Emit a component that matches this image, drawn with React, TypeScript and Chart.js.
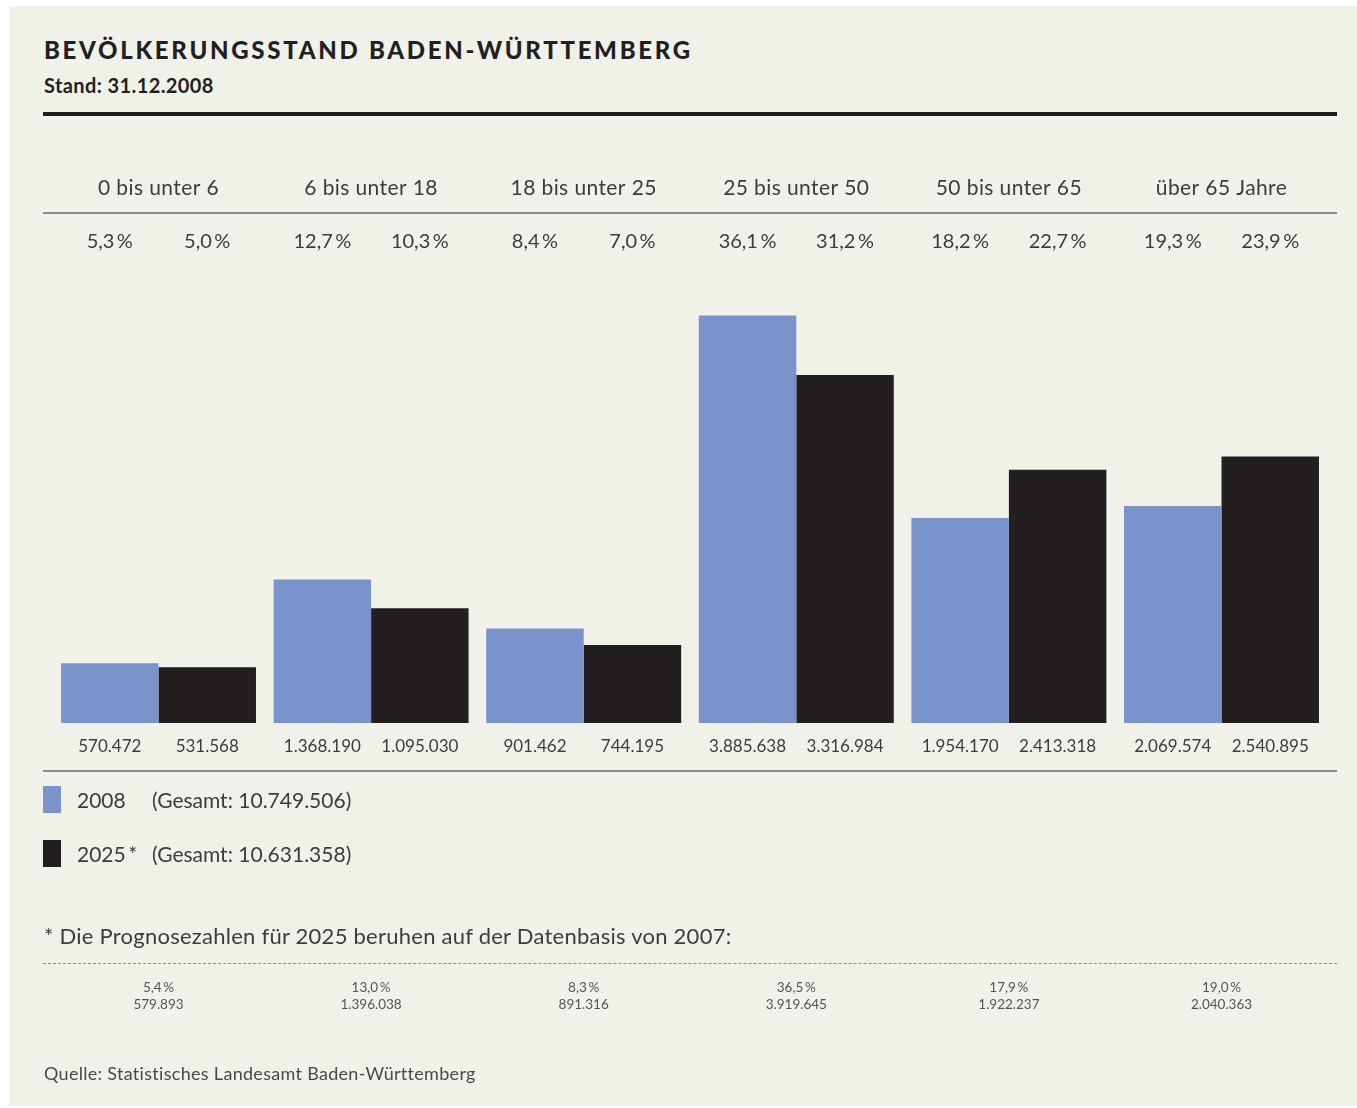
import React, { useEffect, useRef } from "react";
import { Chart, registerables } from "chart.js";

Chart.register(...registerables);

const categories = ["0 bis unter 6", "6 bis unter 18", "18 bis unter 25", "25 bis unter 50", "50 bis unter 65", "über 65 Jahre"];
const values2008 = [570472, 1368190, 901462, 3885638, 1954170, 2069574];
const values2025 = [531568, 1095030, 744195, 3316984, 2413318, 2540895];
const pct2008 = ["5,3", "12,7", "8,4", "36,1", "18,2", "19,3"];
const pct2025 = ["5,0", "10,3", "7,0", "31,2", "22,7", "23,9"];
const base2007Pct = ["5,4", "13,0", "8,3", "36,5", "17,9", "19,0"];
const base2007Values = [579893, 1396038, 891316, 3919645, 1922237, 2040363];
const total2008 = 10749506;
const total2025 = 10631358;

const BLUE = "#7a93cb";
const DARK = "#231f20";
const BG = "#f0f2ea";
const FONT = "Lato, 'Open Sans', sans-serif";

const fmt = (n: number) => String(n).replace(/\B(?=(\d{3})+(?!\d))/g, ".");
const pct = (s: string) => s + "\u2009%";

const labelsPlugin = {
  id: "labelsPlugin",
  afterDraw(chart: any) {
    const ctx = chart.ctx;
    const xs = chart.scales.x;
    const m0 = chart.getDatasetMeta(0);
    const m1 = chart.getDatasetMeta(1);
    ctx.save();
    ctx.textAlign = "center";
    ctx.textBaseline = "middle";
    categories.forEach((c, i) => {
      const cx = xs.getPixelForValue(i);
      const b0 = m0.data[i].x;
      const b1 = m1.data[i].x;
      ctx.fillStyle = "#3d3b3c";
      ctx.font = `21px ${FONT}`;
      (ctx as any).letterSpacing = "0.4px";
      ctx.fillText(c, cx, 188);
      (ctx as any).letterSpacing = "0px";
      ctx.font = `20px ${FONT}`;
      ctx.fillText(pct(pct2008[i]), b0, 242);
      ctx.fillText(pct(pct2025[i]), b1, 242);
      ctx.font = `17px ${FONT}`;
      ctx.fillText(fmt(values2008[i]), b0, 747);
      ctx.fillText(fmt(values2025[i]), b1, 747);
      ctx.fillStyle = "#555354";
      ctx.font = `13.5px ${FONT}`;
      ctx.fillText(pct(base2007Pct[i]), cx, 988);
      ctx.fillText(fmt(base2007Values[i]), cx, 1005);
    });
    ctx.restore();
  },
};

export default function App() {
  const ref = useRef<HTMLCanvasElement>(null);
  useEffect(() => {
    const chart = new Chart(ref.current!, {
      type: "bar",
      data: {
        labels: categories,
        datasets: [
          { label: "2008", data: values2008, backgroundColor: BLUE, barPercentage: 1, categoryPercentage: 0.917 },
          { label: "2025*", data: values2025, backgroundColor: DARK, barPercentage: 1, categoryPercentage: 0.917 },
        ],
      },
      options: {
        animation: false,
        responsive: false,
        maintainAspectRatio: false,
        events: [],
        layout: { padding: { left: 52.2, right: 29.2, top: 284, bottom: 385 } },
        plugins: { legend: { display: false }, tooltip: { enabled: false } },
        scales: {
          x: { display: false, grid: { display: false } },
          y: { display: false, min: 0, max: 4185000, grid: { display: false } },
        },
      },
      plugins: [labelsPlugin],
    });
    return () => chart.destroy();
  }, []);

  const text: React.CSSProperties = { position: "absolute", fontFamily: FONT, color: "#3d3b3c", whiteSpace: "nowrap", margin: 0 };
  const hline = (top: number, h: number, color: string, style?: React.CSSProperties): React.CSSProperties => ({
    position: "absolute", left: 43, width: 1294, top, height: h, background: color, ...style,
  });

  return (
    <div style={{ position: "absolute", left: 0, top: 0, width: 1357, height: 1108, background: "#fff", overflow: "hidden" }}>
      <div style={{ position: "absolute", left: 9, top: 6, width: 1348, height: 1100, background: BG }} />
      <div style={{ ...text, left: 44, top: 35, fontSize: 24, fontWeight: 900, letterSpacing: 2.7, color: "#231f20", lineHeight: "30px" }}>
        BEVÖLKERUNGSSTAND BADEN-WÜRTTEMBERG
      </div>
      <div style={{ ...text, left: 44, top: 72, fontSize: 20, fontWeight: 700, letterSpacing: 0.4, color: "#231f20", lineHeight: "26px" }}>
        Stand: 31.12.2008
      </div>
      <div style={hline(112, 4, "#1e1c1d")} />
      <div style={hline(212, 2, "#8a8a88")} />
      <div style={hline(770, 2, "#8a8a88")} />
      <div style={{ position: "absolute", left: 43, width: 1294, top: 963, height: 0, borderTop: "1.5px dashed #8a8a88" }} />
      <canvas ref={ref} width={1357} height={1108} style={{ position: "absolute", left: 0, top: 0, width: 1357, height: 1108 }} />
      <div style={{ position: "absolute", left: 43, top: 786, width: 18, height: 27, background: BLUE }} />
      <div style={{ ...text, left: 77, top: 786, fontSize: 21, lineHeight: "27px" }}>2008</div>
      <div style={{ ...text, left: 152, top: 786, fontSize: 21, lineHeight: "27px" }}>(Gesamt: {fmt(total2008)})</div>
      <div style={{ position: "absolute", left: 43, top: 840, width: 18, height: 27, background: DARK }} />
      <div style={{ ...text, left: 77, top: 840, fontSize: 21, lineHeight: "27px" }}>2025{"\u2009"}*</div>
      <div style={{ ...text, left: 152, top: 840, fontSize: 21, lineHeight: "27px" }}>(Gesamt: {fmt(total2025)})</div>
      <div style={{ ...text, left: 44, top: 922, fontSize: 22, letterSpacing: 0.25, lineHeight: "28px" }}>
        * Die Prognosezahlen für 2025 beruhen auf der Datenbasis von 2007:
      </div>
      <div style={{ ...text, left: 44, top: 1062, fontSize: 18, letterSpacing: 0.3, lineHeight: "22px", color: "#4a4849" }}>
        Quelle: Statistisches Landesamt Baden-Württemberg
      </div>
    </div>
  );
}
